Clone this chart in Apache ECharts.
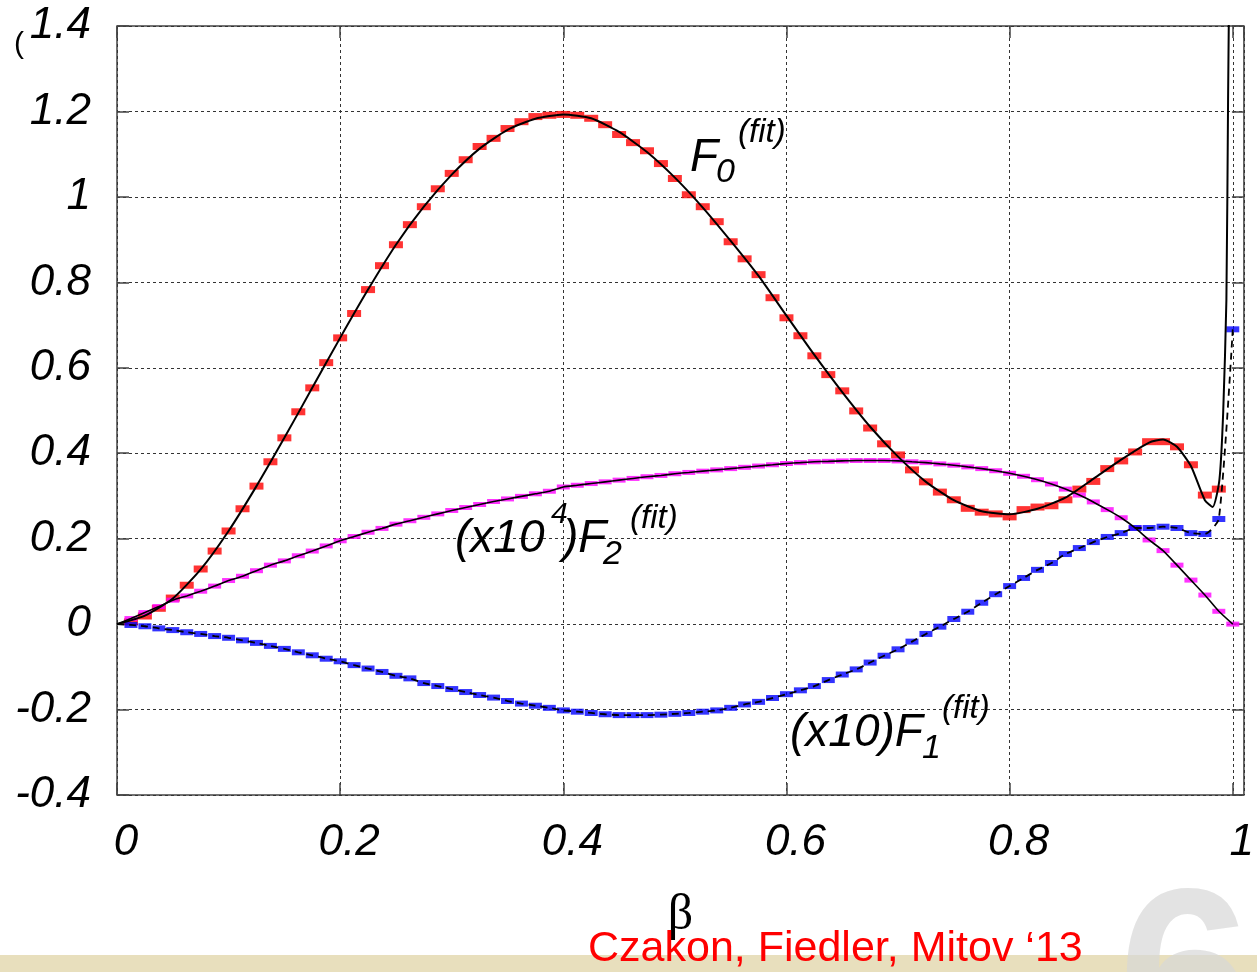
<!DOCTYPE html>
<html>
<head>
<meta charset="utf-8">
<title>F0 F1 F2 fit</title>
<script src="https://cdn.jsdelivr.net/npm/echarts@6/dist/echarts.min.js"></script>
<style>
    html, body { margin: 0; padding: 0; background: #fff; }
    #main { width: 1257px; height: 972px; }
</style>
</head>
<body>
<div id="main"></div>
<script>
// beta 取值 (每 0.0125 一个点)
var beta = [0.0125, 0.025, 0.0375, 0.05, 0.0625, 0.075, 0.0875, 0.1, 0.1125, 0.125, 0.1375, 0.15, 0.1625, 0.175, 0.1875, 0.2,
    0.2125, 0.225, 0.2375, 0.25, 0.2625, 0.275, 0.2875, 0.3, 0.3125, 0.325, 0.3375, 0.35, 0.3625, 0.375, 0.3875, 0.4,
    0.4125, 0.425, 0.4375, 0.45, 0.4625, 0.475, 0.4875, 0.5, 0.5125, 0.525, 0.5375, 0.55, 0.5625, 0.575, 0.5875, 0.6,
    0.6125, 0.625, 0.6375, 0.65, 0.6625, 0.675, 0.6875, 0.7, 0.7125, 0.725, 0.7375, 0.75, 0.7625, 0.775, 0.7875, 0.8,
    0.8125, 0.825, 0.8375, 0.85, 0.8625, 0.875, 0.8875, 0.9, 0.9125, 0.925, 0.9375, 0.95, 0.9625, 0.975, 0.9875, 1.0];

// F0 数据点 (红)
var f0Points = [0.005, 0.019, 0.037, 0.061, 0.091, 0.129, 0.171, 0.218, 0.270, 0.323, 0.380, 0.436, 0.497, 0.553, 0.612, 0.670,
    0.727, 0.783, 0.839, 0.888, 0.935, 0.977, 1.019, 1.055, 1.087, 1.118, 1.137, 1.160, 1.176, 1.188, 1.191, 1.193,
    1.191, 1.184, 1.169, 1.146, 1.127, 1.108, 1.078, 1.043, 1.005, 0.977, 0.942, 0.895, 0.855, 0.818, 0.764, 0.717,
    0.675, 0.628, 0.584, 0.546, 0.499, 0.459, 0.422, 0.396, 0.361, 0.333, 0.309, 0.291, 0.271, 0.262, 0.258, 0.251,
    0.268, 0.274, 0.277, 0.291, 0.316, 0.334, 0.364, 0.382, 0.403, 0.427, 0.427, 0.415, 0.373, 0.302, 0.316, null];

// (x10) F1 数据点 (蓝)
var f1Points = [-0.002, -0.005, -0.010, -0.014, -0.019, -0.023, -0.028, -0.032, -0.038, -0.044, -0.051, -0.058, -0.066, -0.073, -0.081, -0.087,
    -0.096, -0.104, -0.112, -0.121, -0.127, -0.138, -0.145, -0.152, -0.159, -0.166, -0.172, -0.180, -0.186, -0.191, -0.196, -0.202,
    -0.205, -0.208, -0.211, -0.213, -0.213, -0.213, -0.212, -0.210, -0.208, -0.205, -0.202, -0.196, -0.188, -0.182, -0.173, -0.164,
    -0.155, -0.145, -0.131, -0.118, -0.106, -0.090, -0.074, -0.059, -0.041, -0.023, -0.006, 0.012, 0.029, 0.050, 0.070, 0.089,
    0.108, 0.127, 0.143, 0.164, 0.178, 0.192, 0.204, 0.213, 0.225, 0.225, 0.228, 0.225, 0.213, 0.211, 0.246, 0.69];

// (x10^4) F2 数据点 (品红)
var f2Points = [0.013, 0.027, 0.041, 0.056, 0.066, 0.077, 0.089, 0.102, 0.112, 0.125, 0.138, 0.148, 0.160, 0.171, 0.183, 0.195,
    0.205, 0.215, 0.224, 0.234, 0.242, 0.250, 0.258, 0.266, 0.273, 0.280, 0.287, 0.293, 0.299, 0.305, 0.311, 0.321,
    0.325, 0.329, 0.333, 0.337, 0.341, 0.345, 0.348, 0.352, 0.355, 0.358, 0.361, 0.364, 0.367, 0.370, 0.373, 0.376,
    0.378, 0.380, 0.381, 0.382, 0.383, 0.383, 0.383, 0.382, 0.380, 0.378, 0.375, 0.372, 0.368, 0.364, 0.359, 0.353,
    0.346, 0.338, 0.328, 0.316, 0.302, 0.286, 0.268, 0.249, 0.225, 0.197, 0.172, 0.138, 0.103, 0.068, 0.030, 0.0];

// F0 拟合曲线 (黑实线)
var f0FitBeta = [0, 0.025, 0.05, 0.075, 0.1, 0.125, 0.15, 0.175, 0.2, 0.225, 0.25, 0.275, 0.3, 0.325, 0.35, 0.375, 0.4,
    0.425, 0.45, 0.475, 0.5, 0.525, 0.55, 0.575, 0.6, 0.625, 0.65, 0.675, 0.7, 0.725, 0.75, 0.775, 0.8,
    0.825, 0.85, 0.875, 0.9, 0.925, 0.9375, 0.95, 0.9625, 0.975, 0.982, 0.988, 0.9914, 0.9943, 0.9958, 0.9966];
var f0FitValue = [0, 0.02, 0.06, 0.128, 0.218, 0.323, 0.436, 0.553, 0.670, 0.783, 0.888, 0.977, 1.052, 1.113, 1.157, 1.183, 1.193,
    1.184, 1.152, 1.105, 1.045, 0.975, 0.897, 0.815, 0.722, 0.630, 0.543, 0.462, 0.392, 0.333, 0.290, 0.264, 0.257,
    0.270, 0.296, 0.340, 0.385, 0.425, 0.432, 0.415, 0.37, 0.29, 0.274, 0.337, 0.494, 0.76, 1.23, 1.45];

function pairs(xs, ys, withOrigin) {
    var arr = withOrigin ? [[0, 0]] : [];
    for (var i = 0; i < xs.length; i++) {
        if (ys[i] !== null) arr.push([xs[i], ys[i]]);
    }
    return arr;
}

var tickFont = { fontFamily: 'Liberation Sans', fontStyle: 'italic', fontSize: 44, color: '#000' };
var gridLine = { show: true, lineStyle: { color: '#333', width: 1, type: [3, 3] } };
var tickStyle = { show: true, inside: true, length: 12, lineStyle: { color: '#444', width: 1.5 } };

// 注释文字 (上下标分开画)
function label(t, x, y, s) {
    return {
        type: 'text', left: x, top: y, z: 50,
        style: { text: t, font: 'italic ' + s + 'px "Liberation Sans"', fill: '#000' }
    };
}

var myChart = echarts.init(document.getElementById('main'));
var option = {
    backgroundColor: '#fff',
    animation: false,
    grid: { left: 117, right: 13, top: 26, bottom: 177, show: true, borderColor: '#444', borderWidth: 1.5, backgroundColor: 'transparent' },
    xAxis: [{
        type: 'value', min: 0, max: 1.01, interval: 0.2,
        name: 'β', nameLocation: 'middle', nameGap: 96,
        nameTextStyle: { fontFamily: 'Liberation Serif', fontSize: 50, color: '#000' },
        axisLine: { show: false, onZero: false },
        axisTick: tickStyle,
        axisLabel: Object.assign({ margin: 26, padding: [0, 0, 0, 18], showMaxLabel: false }, tickFont),
        splitLine: gridLine
    }, {
        type: 'value', min: 0, max: 1.01, interval: 0.2, position: 'top',
        axisLine: { show: false, onZero: false }, axisTick: tickStyle, axisLabel: { show: false }, splitLine: { show: false }
    }],
    yAxis: [{
        type: 'value', min: -0.4, max: 1.4, interval: 0.2,
        axisLine: { show: false, onZero: false },
        axisTick: tickStyle,
        axisLabel: Object.assign({ margin: 26 }, tickFont),
        splitLine: gridLine
    }, {
        type: 'value', min: -0.4, max: 1.4, interval: 0.2, position: 'right',
        axisLine: { show: false, onZero: false }, axisTick: tickStyle, axisLabel: { show: false }, splitLine: { show: false }
    }],
    series: [{
        name: 'F0', type: 'scatter', symbol: 'rect', symbolSize: [14, 7], z: 2,
        itemStyle: { color: '#ff0000' }, data: pairs(beta, f0Points, false)
    }, {
        name: 'F2', type: 'scatter', symbol: 'rect', symbolSize: [13, 5], z: 2,
        itemStyle: { color: '#ff00ff' }, data: pairs(beta, f2Points, false)
    }, {
        name: 'F1', type: 'scatter', symbol: 'rect', symbolSize: [13, 6], z: 2,
        itemStyle: { color: '#0000ff' }, data: pairs(beta, f1Points, false)
    }, {
        name: 'F0 fit', type: 'line', showSymbol: false, smooth: 0.2, clip: true, z: 5,
        lineStyle: { color: '#000', width: 2 }, data: pairs(f0FitBeta, f0FitValue, false)
    }, {
        name: 'F2 fit', type: 'line', showSymbol: false, smooth: 0.2, clip: true, z: 5,
        lineStyle: { color: '#000', width: 1.6 }, data: pairs(beta, f2Points, true)
    }, {
        name: 'F1 fit', type: 'line', showSymbol: false, smooth: 0.2, clip: true, z: 5,
        lineStyle: { color: '#000', width: 1.8, type: [7, 5] }, data: pairs(beta, f1Points, true)
    }],
    graphic: [
        { type: 'rect', left: 0, top: 955, z: 1, shape: { width: 1257, height: 17 }, style: { fill: '#e8dfbd' } },
        { type: 'text', left: 1118, top: 870, z: 2, style: { text: '6', font: 'bold 240px "Liberation Sans"', fill: 'rgba(215,215,215,0.7)' } },
        { type: 'text', left: 14, top: 30, z: 50, style: { text: '(', font: '30px "Liberation Sans"', fill: '#000' } },
        { type: 'text', left: 588, top: 928, z: 50, style: { text: 'Czakon, Fiedler, Mitov ‘13', font: '43px "Liberation Sans"', fill: '#ff0000' } },
        label('F', 690, 135, 46), label('0', 716, 156, 34), label('(fit)', 738, 116, 33),
        label('(x10', 455, 516, 46), label('4', 551, 500, 30), label(')F', 563, 516, 46), label('2', 603, 538, 34), label('(fit)', 630, 502, 33),
        label('(x10)F', 790, 710, 46), label('1', 922, 732, 34), label('(fit)', 942, 692, 33)
    ]
};
myChart.setOption(option);
</script>
</body>
</html>
